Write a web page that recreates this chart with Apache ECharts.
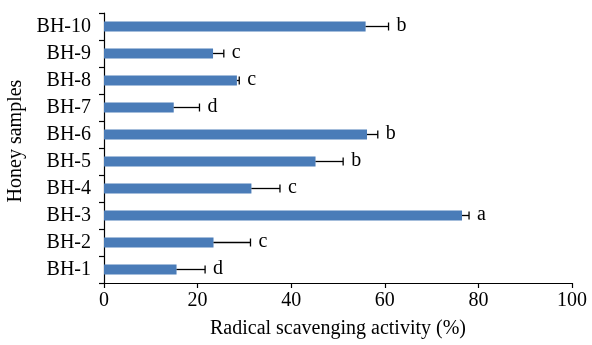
<!DOCTYPE html>
<html>
<head>
<meta charset="utf-8">
<script src="https://cdn.jsdelivr.net/npm/echarts@6/dist/echarts.min.js"></script>
<style>
  html, body { margin: 0; padding: 0; background: #fff; }
  #chart { width: 592px; height: 345px; }
</style>
</head>
<body>
<div id="chart"></div>
<script>
// Honey samples, bottom to top
const categories = ['BH-1', 'BH-2', 'BH-3', 'BH-4', 'BH-5', 'BH-6', 'BH-7', 'BH-8', 'BH-9', 'BH-10'];
// Mean radical scavenging activity (%)
const means = [15.5, 23.4, 76.5, 31.5, 45.2, 56.2, 14.9, 28.4, 23.3, 55.9];
// Standard deviation (one-sided bar)
const errors = [6.1, 7.9, 1.5, 6.1, 5.9, 2.3, 5.5, 0.5, 2.3, 4.9];
// Significance letters
const letters = ['d', 'c', 'a', 'c', 'b', 'b', 'd', 'c', 'c', 'b'];
const xTicks = [0, 20, 40, 60, 80, 100];

const FONT = '"Liberation Serif", "DejaVu Serif", serif';
const FS = 20;
const BLUE = '#4a7cb8';

const chart = echarts.init(document.getElementById('chart'), null, { renderer: 'canvas' });

const errData = categories.map((c, i) => [means[i], i, errors[i]]);

chart.setOption({
  animation: false,
  backgroundColor: '#ffffff',
  grid: { left: 104, right: 20, top: 13, bottom: 62, outerBoundsMode: 'none', containLabel: false },
  xAxis: {
    type: 'value',
    min: xTicks[0],
    max: xTicks[xTicks.length - 1],
    interval: 20,
    splitLine: { show: false },
    axisLine: { show: true, lineStyle: { color: '#000', width: 1.2 } },
    axisTick: { show: true, length: 5, lineStyle: { color: '#000', width: 1.2 } },
    axisLabel: { color: '#000', fontFamily: FONT, fontSize: FS, margin: 8 },
    name: 'Radical scavenging activity (%)',
    nameLocation: 'middle',
    nameGap: 36,
    nameTextStyle: { color: '#000', fontFamily: FONT, fontSize: FS }
  },
  yAxis: {
    type: 'category',
    data: categories,
    axisLine: { show: true, lineStyle: { color: '#000', width: 1.2 } },
    axisTick: { show: true, length: 5, lineStyle: { color: '#000', width: 1.2 } },
    axisLabel: { color: '#000', fontFamily: FONT, fontSize: FS, margin: 13 },
    name: 'Honey samples',
    nameLocation: 'middle',
    nameGap: 73,
    nameRotate: 90,
    nameTextStyle: { color: '#000', fontFamily: FONT, fontSize: FS, padding: [0, 0, 0, 14] }
  },
  series: [
    {
      type: 'bar',
      data: means,
      barWidth: 10,
      itemStyle: { color: BLUE }
    },
    {
      type: 'custom',
      data: errData,
      z: 5,
      renderItem: function (params, api) {
        const m = api.value(0);
        const idx = api.value(1);
        const e = api.value(2);
        const p0 = api.coord([m, idx]);
        const p1 = api.coord([m + e, idx]);
        const cap = 4;
        return {
          type: 'group',
          children: [
            {
              type: 'line',
              shape: { x1: p0[0], y1: p0[1], x2: p1[0], y2: p1[1] },
              style: { stroke: '#000', lineWidth: 1.3 }
            },
            {
              type: 'line',
              shape: { x1: p1[0], y1: p1[1] - cap, x2: p1[0], y2: p1[1] + cap },
              style: { stroke: '#000', lineWidth: 1.3 }
            },
            {
              type: 'text',
              style: {
                x: p1[0] + 8,
                y: p1[1] - 1,
                text: letters[idx],
                fill: '#000',
                font: FS + 'px ' + FONT,
                textAlign: 'left',
                textVerticalAlign: 'middle'
              }
            }
          ]
        };
      }
    }
  ]
});
</script>
</body>
</html>
